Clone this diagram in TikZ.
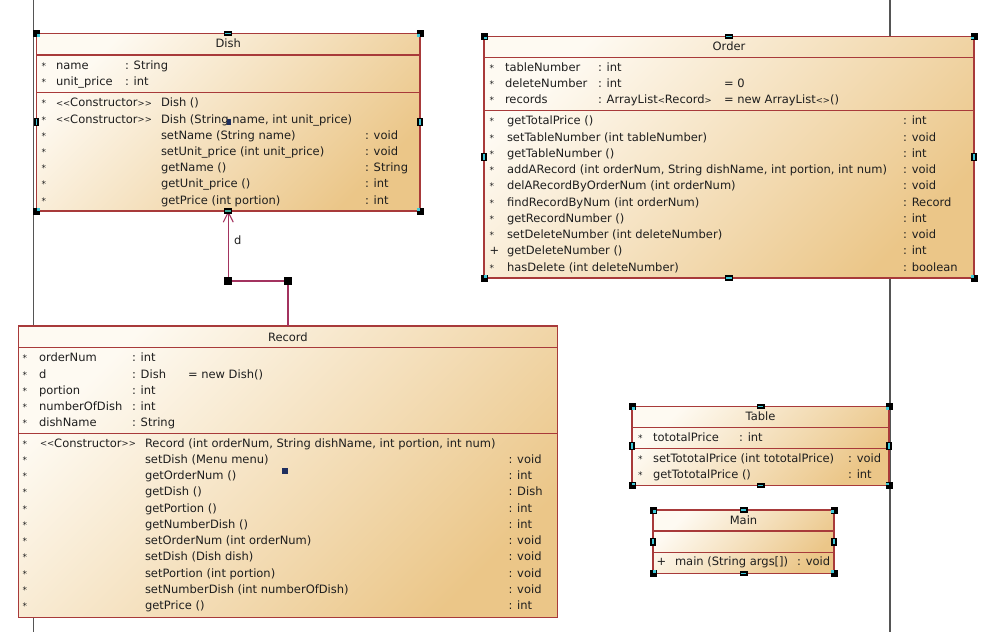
\documentclass[tikz,border=0pt]{standalone}
\usepackage{fontspec}
\usetikzlibrary{arrows.meta}
\newfontfamily\umlfont{DejaVu Sans}
\definecolor{boxred}{HTML}{A83A3A}
\definecolor{fillA}{HTML}{FEFAF2}
\definecolor{fillB}{HTML}{EBC688}
\definecolor{linkc}{HTML}{A3335F}
\definecolor{txt}{HTML}{1E1E1E}
\definecolor{lifec}{HTML}{555555}
\definecolor{hcyan}{HTML}{3FC8D8}
\definecolor{hteal}{HTML}{3AA896}
\definecolor{navyc}{HTML}{1F2F5F}
\newcommand\uf{\umlfont\fontsize{11.5}{13}\selectfont}
\newcommand\mkS{{\fontsize{9}{9}\selectfont *}}
\newcommand\mkP{+}
\newcommand\lt{\raisebox{0.8pt}{\fontsize{8.5}{9}\selectfont<}}
\newcommand\gt{\raisebox{0.8pt}{\fontsize{8.5}{9}\selectfont>}}
\newcommand\ctor{\lt\lt Constructor\gt\gt}
\newcommand\hcorner[4]{\fill[black] ({#1},{#2}) +(-3.5,-3.5) rectangle +(3.5,3.5);
  \fill[hcyan] ({#1},{#2}) ++({#3*0.4},{#4*0.4}) rectangle ++({#3*2.6},{#4*2.6});}
\newcommand\hhor[3][hcyan]{\fill[black] ({#2},{#3}) +(-4,-2.6) rectangle +(4,2.6);
  \fill[#1] ({#2},{#3}) +(-2.8,-0.7) rectangle +(2.8,0.7);}
\newcommand\hver[3][hcyan]{\fill[black] ({#2},{#3}) +(-2.6,-4) rectangle +(2.6,4);
  \fill[#1] ({#2},{#3}) +(-0.7,-2.8) rectangle +(0.7,2.8);}
\newcommand\handles[4]{% x1 y1 x2 y2
  \hcorner{#1}{#2}{1}{1}\hcorner{#3}{#2}{-1}{1}\hcorner{#1}{#4}{1}{-1}\hcorner{#3}{#4}{-1}{-1}
  \hhor{(#1+#3)/2}{#2}\hhor{(#1+#3)/2}{#4}\hver{#1}{(#2+#4)/2}\hver{#3}{(#2+#4)/2}}
\begin{document}
\begin{tikzpicture}[x=1pt,y=-1pt,
  umlbox/.style={draw=boxred, line width=1.1pt, top color=fillA, bottom color=fillB,
    shading angle=45, anchor=north west, inner sep=0pt, outer sep=0pt},
  divider/.style={draw=boxred, line width=1.1pt},
  t/.style={anchor=base west, inner sep=0pt, outer sep=0pt, font=\uf, text=txt},
  hd/.style={anchor=base, inner sep=0pt, outer sep=0pt, font=\uf, text=txt},
  lifeline/.style={draw=lifec, line width=1.5pt},
  assoc/.style={draw=linkc, line width=1.2pt, -{Straight Barb[length=10pt,width=10pt,line width=1.1pt]}}]
\useasboundingbox (0,0) rectangle (993,632);
\fill[white] (0,0) rectangle (993,632);
% life lines
\coordinate (lAt) at (33.5,0); \coordinate (lAb) at (33.5,632);
\coordinate (lBt) at (890,0); \coordinate (lBb) at (890,632);
\draw[lifeline] (lAt) -- (lAb);
\draw[lifeline] (lBt) -- (lBb);

% ---------------- Dish ----------------
\node[umlbox, minimum width=383.5pt, minimum height=177.5pt] (dish) at (36.5,33.5) {};
\draw[divider] (dish.west |- 0,55) -- (dish.east |- 0,55);
\draw[divider] (dish.west |- 0,92.3) -- (dish.east |- 0,92.3);
\node[hd] (dishT) at (dish.north |- 0,47.3) {Dish};
\node[t] (da1s) at (41.5,69.2) {\mkS}; \node[t] (da1n) at (56,69.2) {name}; \node[t] (da1t) at (125,69.2) {: String};
\node[t] (da2s) at (41.5,85.2) {\mkS}; \node[t] (da2n) at (56,85.2) {unit\_price}; \node[t] (da2t) at (125,85.2) {: int};
\node[t] (dm1s) at (41.5,106.8) {\mkS}; \node[t] (dm1c) at (56,106.8) {\ctor}; \node[t] (dm1n) at (161,106.8) {Dish ()};
\node[t] (dm2s) at (41.5,123) {\mkS}; \node[t] (dm2c) at (56,123) {\ctor}; \node[t] (dm2n) at (161,123) {Dish (String name, int unit\_price)};
\foreach \n/\r [count=\i from 3] in {{setName (String name)}/{: void},{setUnit\_price (int unit\_price)}/{: void},{getName ()}/{: String},{getUnit\_price ()}/{: int},{getPrice (int portion)}/{: int}}{
  \node[t] (dm\i s) at (41.5,{106.8+(\i-1)*16.2}) {\mkS};
  \node[t] (dm\i n) at (161,{106.8+(\i-1)*16.2}) {\n};
  \node[t] (dm\i r) at (365,{106.8+(\i-1)*16.2}) {\r};
}

% ---------------- Order ----------------
\node[umlbox, minimum width=490pt, minimum height=241.7pt] (order) at (484,36.3) {};
\draw[divider] (order.west |- 0,57.3) -- (order.east |- 0,57.3);
\draw[divider] (order.west |- 0,110.7) -- (order.east |- 0,110.7);
\node[hd] (orderT) at (order.north |- 0,50) {Order};
\node[t] (oa1s) at (489.5,71.5) {\mkS}; \node[t] (oa1n) at (505,71.5) {tableNumber}; \node[t] (oa1t) at (598,71.5) {: int};
\node[t] (oa2s) at (489.5,87.7) {\mkS}; \node[t] (oa2n) at (505,87.7) {deleteNumber}; \node[t] (oa2t) at (598,87.7) {: int}; \node[t] (oa2v) at (724,87.7) {= 0};
\node[t] (oa3s) at (489.5,103.9) {\mkS}; \node[t] (oa3n) at (505,103.9) {records}; \node[t] (oa3t) at (598,103.9) {: ArrayList\lt Record\gt}; \node[t] (oa3v) at (724,103.9) {= new ArrayList\lt\gt()};
\foreach \m/\n/\r [count=\i] in {\mkS/{getTotalPrice ()}/{: int},\mkS/{setTableNumber (int tableNumber)}/{: void},\mkS/{getTableNumber ()}/{: int},\mkS/{addARecord (int orderNum, String dishName, int portion, int num)}/{: void},\mkS/{delARecordByOrderNum (int orderNum)}/{: void},\mkS/{findRecordByNum (int orderNum)}/{: Record},\mkS/{getRecordNumber ()}/{: int},\mkS/{setDeleteNumber (int deleteNumber)}/{: void},\mkP/{getDeleteNumber ()}/{: int},\mkS/{hasDelete (int deleteNumber)}/{: boolean}}{
  \node[t] (om\i s) at (489.5,{124.8+(\i-1)*16.25}) {\m};
  \node[t] (om\i n) at (507,{124.8+(\i-1)*16.25}) {\n};
  \node[t] (om\i r) at (903,{124.8+(\i-1)*16.25}) {\r};
}

% ---------------- Record ----------------
\node[umlbox, minimum width=538.8pt, minimum height=291.7pt] (record) at (18.5,326) {};
\draw[divider] (record.west |- 0,347.5) -- (record.east |- 0,347.5);
\draw[divider] (record.west |- 0,433.4) -- (record.east |- 0,433.4);
\node[hd] (recordT) at (record.north |- 0,341) {Record};
\foreach \n/\r [count=\i] in {orderNum/{: int},d/{: Dish},portion/{: int},numberOfDish/{: int},dishName/{: String}}{
  \node[t] (ra\i s) at (22.5,{361.8+(\i-1)*16.2}) {\mkS};
  \node[t] (ra\i n) at (39,{361.8+(\i-1)*16.2}) {\n};
  \node[t] (ra\i t) at (132,{361.8+(\i-1)*16.2}) {\r};
}
\node[t] (ra2v) at (188,378) {= new Dish()};
\node[t] (rm1s) at (22.5,447) {\mkS}; \node[t] (rm1c) at (40,447) {\ctor};
\node[t] (rm1n) at (145,447) {Record (int orderNum, String dishName, int portion, int num)};
\foreach \n/\r [count=\i from 2] in {{setDish (Menu menu)}/{: void},{getOrderNum ()}/{: int},{getDish ()}/{: Dish},{getPortion ()}/{: int},{getNumberDish ()}/{: int},{setOrderNum (int orderNum)}/{: void},{setDish (Dish dish)}/{: void},{setPortion (int portion)}/{: void},{setNumberDish (int numberOfDish)}/{: void},{getPrice ()}/{: int}}{
  \node[t] (rm\i s) at (22.5,{447+(\i-1)*16.25}) {\mkS};
  \node[t] (rm\i n) at (145,{447+(\i-1)*16.25}) {\n};
  \node[t] (rm\i r) at (508.5,{447+(\i-1)*16.25}) {\r};
}

% ---------------- Table ----------------
\node[umlbox, minimum width=257pt, minimum height=79pt] (table) at (632,406.7) {};
\draw[divider] (table.west |- 0,427.7) -- (table.east |- 0,427.7);
\draw[divider] (table.west |- 0,448.3) -- (table.east |- 0,448.3);
\node[hd] (tableT) at (table.north |- 0,420.5) {Table};
\node[t] (ta1s) at (638,441.2) {\mkS}; \node[t] (ta1n) at (653,441.2) {tototalPrice}; \node[t] (ta1t) at (739,441.2) {: int};
\node[t] (tm1s) at (638,462.5) {\mkS}; \node[t] (tm1n) at (653,462.5) {setTototalPrice (int tototalPrice)}; \node[t] (tm1r) at (848,462.5) {: void};
\node[t] (tm2s) at (638,478.6) {\mkS}; \node[t] (tm2n) at (653,478.6) {getTototalPrice ()}; \node[t] (tm2r) at (848,478.6) {: int};

% ---------------- Main ----------------
\node[umlbox, minimum width=181pt, minimum height=63.3pt] (main) at (653,510) {};
\draw[divider] (main.west |- 0,531) -- (main.east |- 0,531);
\draw[divider] (main.west |- 0,552.3) -- (main.east |- 0,552.3);
\node[hd] (mainT) at (main.north |- 0,524) {Main};
\node[t] (mm1s) at (656.5,565.5) {\mkP}; \node[t] (mm1n) at (675,565.5) {main (String args[])}; \node[t] (mm1r) at (797,565.5) {: void};

% ---------------- association Record -> Dish ----------------
\coordinate (bend) at (0,281);
\draw[assoc] (record.north) -- (record.north |- bend) -- (dish.south |- bend) -- (dish.south);
\node[t] (dlabel) at (234,244) {d};

% ---------------- selection handles ----------------
\handles{36.5}{33.5}{420}{211}
\hhor[hteal]{228.25}{211}
\fill[navyc] (229,122) +(-2,-3) rectangle +(2,3);
\handles{484}{36.3}{974}{278}
\handles{632}{406.7}{889}{485.7}
\handles{653}{510}{834}{573.3}
\fill[black] (record.north |- bend) +(-4,-4) rectangle +(4,4);
\fill[black] (dish.south |- bend) +(-4,-4) rectangle +(4,4);
\fill[navyc] (285,471) +(-3,-3) rectangle +(3,3);
\end{tikzpicture}
\end{document}
